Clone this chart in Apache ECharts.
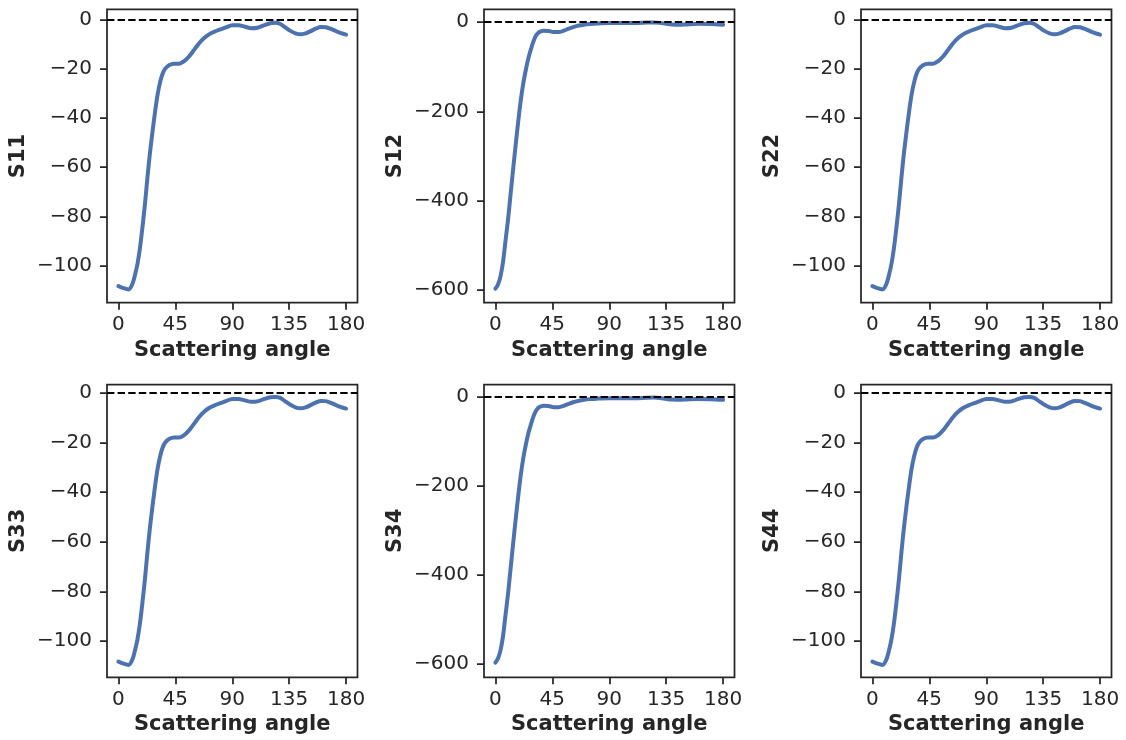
<!DOCTYPE html>
<html>
<head>
<meta charset="utf-8">
<script src="https://cdn.jsdelivr.net/npm/echarts@6/dist/echarts.min.js"></script>
<style>
html,body{margin:0;padding:0;background:#fff;}
#chart{width:1126px;height:740px;}
</style>
</head>
<body>
<div id="chart"></div>
<script>
// ---- data ----
var panelNames = ["S11", "S12", "S22", "S33", "S34", "S44"];
var xTicks = [0, 45, 90, 135, 180];
var yTicksSmall = [-100, -80, -60, -40, -20, 0];
var yTicksLarge = [-600, -400, -200, 0];

var anglesDiag = [0, 4, 8, 11, 13, 15, 17, 19, 21, 23, 25, 27, 29, 31, 33, 35, 37, 40, 44, 48, 52, 56, 60, 64, 68, 72, 76, 80, 85, 90, 95, 100, 105, 110, 115, 120, 124, 128, 132, 136, 140, 144, 148, 152, 156, 160, 164, 168, 172, 176, 180];
var s11 = [-108.3, -109.1, -109.6, -107.5, -104.0, -99.5, -93.0, -84.5, -75.0, -64.0, -54.0, -45.5, -37.5, -30.5, -25.5, -22.0, -20.0, -18.6, -18.0, -18.0, -17.0, -15.0, -12.3, -9.6, -7.5, -6.0, -5.0, -4.2, -3.3, -2.4, -2.4, -3.0, -3.6, -3.4, -2.5, -1.6, -1.4, -1.9, -3.3, -4.7, -5.7, -6.1, -5.7, -4.8, -3.8, -3.1, -3.2, -3.9, -4.8, -5.6, -6.2];
var s22 = [-108.3, -109.1, -109.6, -107.5, -104.0, -99.5, -93.0, -84.5, -75.0, -64.0, -54.0, -45.5, -37.5, -30.5, -25.5, -22.0, -20.0, -18.6, -18.0, -18.0, -17.0, -15.0, -12.3, -9.6, -7.5, -6.0, -5.0, -4.2, -3.3, -2.4, -2.4, -3.0, -3.6, -3.4, -2.5, -1.6, -1.4, -1.9, -3.3, -4.7, -5.7, -6.1, -5.7, -4.8, -3.8, -3.1, -3.2, -3.9, -4.8, -5.6, -6.2];
var s33 = [-108.3, -109.1, -109.6, -107.5, -104.0, -99.5, -93.0, -84.5, -75.0, -64.0, -54.0, -45.5, -37.5, -30.5, -25.5, -22.0, -20.0, -18.6, -18.0, -18.0, -17.0, -15.0, -12.3, -9.6, -7.5, -6.0, -5.0, -4.2, -3.3, -2.4, -2.4, -3.0, -3.6, -3.4, -2.5, -1.7, -1.6, -2.0, -3.4, -4.8, -5.8, -6.2, -5.8, -4.9, -3.9, -3.2, -3.3, -4.0, -4.9, -5.7, -6.3];
var s44 = [-108.3, -109.1, -109.6, -107.5, -104.0, -99.5, -93.0, -84.5, -75.0, -64.0, -54.0, -45.5, -37.5, -30.5, -25.5, -22.0, -20.0, -18.6, -18.0, -18.0, -17.0, -15.0, -12.3, -9.6, -7.5, -6.0, -5.0, -4.2, -3.3, -2.4, -2.4, -3.0, -3.6, -3.4, -2.5, -1.7, -1.6, -2.0, -3.4, -4.8, -5.8, -6.2, -5.8, -4.9, -3.9, -3.2, -3.3, -4.0, -4.9, -5.7, -6.3];

var anglesOff = [0, 2, 4, 6, 8, 10, 12, 14, 16, 18, 20, 22, 24, 26, 28, 30, 32, 34, 36, 38, 42, 46, 50, 54, 58, 62, 66, 70, 75, 80, 90, 100, 110, 120, 125, 130, 135, 140, 145, 150, 160, 170, 180];
var s12 = [-597, -588, -570, -538, -490, -442, -386, -330, -276, -224, -177, -138, -108, -82, -62, -44, -31, -24, -21, -19.5, -20, -22.5, -22.5, -19.5, -15, -11, -8, -6, -4.5, -3.5, -2.5, -2.5, -2.5, -1.2, -1.0, -2.0, -4.0, -5.5, -6.0, -5.5, -4.0, -4.5, -6.0];
var s34 = [-597, -588, -570, -538, -490, -442, -386, -330, -276, -224, -177, -138, -108, -82, -62, -44, -31, -24, -21, -19.5, -20, -22.5, -22.5, -19.5, -15, -11, -8, -6, -4.5, -3.5, -2.5, -2.5, -2.5, -1.2, -1.0, -2.0, -4.0, -5.5, -6.0, -5.5, -4.0, -4.5, -6.0];

// ---- layout / style ----
var INK = '#262626';
var FONT = 'DejaVu Sans';
var panels = [
  {name: panelNames[0], x: anglesDiag, y: s11, ticks: yTicksSmall, ymin: -115.0, ymax: 4.06, left: 107, top: 9.3, h: 293.4},
  {name: panelNames[1], x: anglesOff,  y: s12, ticks: yTicksLarge, ymin: -628.4, ymax: 28.4, left: 484, top: 9.3, h: 293.4},
  {name: panelNames[2], x: anglesDiag, y: s22, ticks: yTicksSmall, ymin: -115.0, ymax: 4.06, left: 861, top: 9.3, h: 293.4},
  {name: panelNames[3], x: anglesDiag, y: s33, ticks: yTicksSmall, ymin: -114.6, ymax: 3.4, left: 107, top: 384.5, h: 292.8},
  {name: panelNames[4], x: anglesOff,  y: s34, ticks: yTicksLarge, ymin: -630.0, ymax: 28.4, left: 484, top: 384.5, h: 292.8},
  {name: panelNames[5], x: anglesDiag, y: s44, ticks: yTicksSmall, ymin: -114.6, ymax: 3.4, left: 861, top: 384.5, h: 292.8}
];

function fmt(v) { return v < 0 ? '\u2212' + Math.abs(v) : String(v); }

var grids = [], xAxes = [], yAxes = [], series = [];
panels.forEach(function (p, i) {
  grids.push({
    left: p.left, top: p.top, width: 250.5, height: p.h,
    show: true, borderColor: INK, borderWidth: 1.75, backgroundColor: 'transparent',
    containLabel: false
  });
  xAxes.push({
    type: 'value', gridIndex: i, min: -9, max: 189, position: 'bottom',
    name: 'Scattering angle', nameLocation: 'middle', nameGap: 37,
    nameTextStyle: {fontFamily: FONT, fontSize: 21, fontWeight: 'bold', color: INK},
    axisLine: {show: false, onZero: false},
    splitLine: {show: false},
    axisTick: {show: true, inside: false, length: 7, lineStyle: {color: INK, width: 1.75}, customValues: xTicks},
    axisLabel: {fontFamily: FONT, fontSize: 20, color: INK, margin: 12, customValues: xTicks, formatter: fmt}
  });
  yAxes.push({
    type: 'value', gridIndex: i, min: p.ymin, max: p.ymax, position: 'left',
    name: p.name, nameLocation: 'middle', nameGap: 78,
    nameTextStyle: {fontFamily: FONT, fontSize: 21, fontWeight: 'bold', color: INK},
    axisLine: {show: false, onZero: false},
    splitLine: {show: false},
    axisTick: {show: true, inside: false, length: 7, lineStyle: {color: INK, width: 1.75}, customValues: p.ticks},
    axisLabel: {fontFamily: FONT, fontSize: 20, color: INK, margin: 15, customValues: p.ticks, formatter: fmt}
  });
  series.push({
    type: 'line', xAxisIndex: i, yAxisIndex: i,
    data: p.x.map(function (a, k) { return [a, p.y[k]]; }),
    showSymbol: false, symbol: 'none',
    smooth: 0.3,
    lineStyle: {color: '#4c72b0', width: 4, cap: 'round', join: 'round'},
    itemStyle: {color: '#4c72b0'},
    markLine: {
      silent: true, symbol: ['none', 'none'], label: {show: false},
      lineStyle: {color: '#000', width: 2, type: [7.4, 3.2]},
      data: [{yAxis: 0}]
    },
    z: 2
  });
});

var chart = echarts.init(document.getElementById('chart'), null, {renderer: 'canvas'});
chart.setOption({
  animation: false,
  backgroundColor: '#ffffff',
  grid: grids,
  xAxis: xAxes,
  yAxis: yAxes,
  series: series
});
</script>
</body>
</html>
